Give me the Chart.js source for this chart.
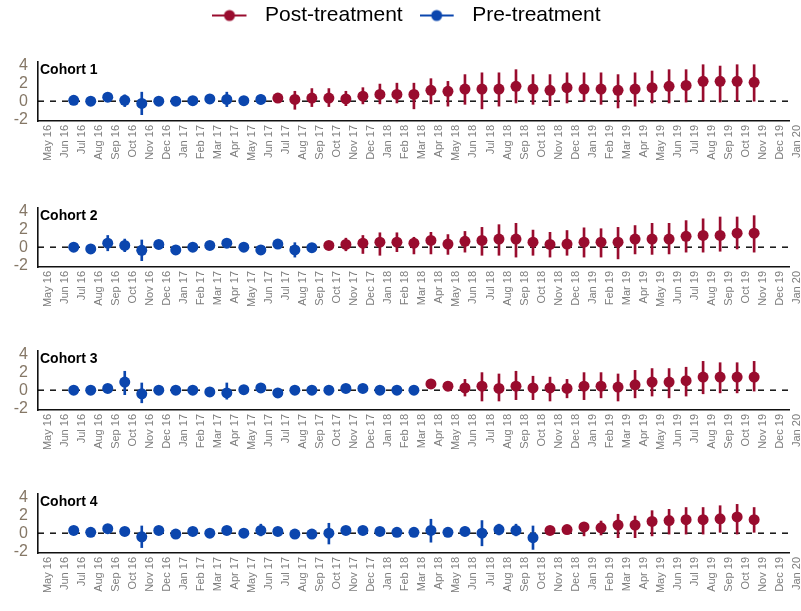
<!DOCTYPE html>
<html>
<head>
<meta charset="utf-8">
<script src="https://cdn.jsdelivr.net/npm/chart.js@4.4.1/dist/chart.umd.min.js"></script>
<style>
  html, body { margin: 0; padding: 0; background: #fff; }
  #wrap { position: relative; width: 801px; height: 611px; overflow: hidden; }
  #wrap canvas { position: absolute; left: 0; }
</style>
</head>
<body>
<div id="wrap">
  <canvas id="legend" width="801" height="120" style="top:-12px"></canvas>
  <canvas id="c1" width="801" height="112" style="top:55px"></canvas>
  <canvas id="c2" width="801" height="112" style="top:201px"></canvas>
  <canvas id="c3" width="801" height="112" style="top:344px"></canvas>
  <canvas id="c4" width="801" height="112" style="top:487px"></canvas>
</div>
<script>
/* ── datos ─────────────────────────────────── */
const monthLabels = [
  'May 16','Jun 16','Jul 16','Aug 16','Sep 16','Oct 16','Nov 16','Dec 16',
  'Jan 17','Feb 17','Mar 17','Apr 17','May 17','Jun 17','Jul 17','Aug 17','Sep 17','Oct 17','Nov 17','Dec 17',
  'Jan 18','Feb 18','Mar 18','Apr 18','May 18','Jun 18','Jul 18','Aug 18','Sep 18','Oct 18','Nov 18','Dec 18',
  'Jan 19','Feb 19','Mar 19','Apr 19','May 19','Jun 19','Jul 19','Aug 19','Sep 19','Oct 19','Nov 19','Dec 19',
  'Jan 20'
];
const firstEstimate = 1;            // estimates start at Jun 16
const yTicks = [-2, 0, 2, 4];
const seriesNames = ['Post-treatment', 'Pre-treatment'];
const cohortNames = ['Cohort 1', 'Cohort 2', 'Cohort 3', 'Cohort 4'];
const treatStart = [12, 15, 21, 28]; // first post-treatment estimate per cohort

const est1 = [0.1,0.0,0.45,0.1,-0.25,0.0,0.0,0.05,0.25,0.2,0.05,0.2,
  0.35,0.2,0.35,0.35,0.25,0.55,0.75,0.75,0.75,1.2,1.1,1.35,1.35,1.35,1.65,1.35,1.2,1.5,1.35,1.35,1.2,1.35,1.5,1.65,1.75,2.2,2.2,2.2,2.1];
const lo1 = [-0.3,-0.3,0.1,-0.6,-1.5,-0.3,-0.3,-0.25,-0.1,-0.6,-0.25,-0.3,
  -0.1,-0.9,-0.6,-0.6,-0.5,-0.3,-0.3,-0.2,-0.85,-0.3,-0.55,-0.35,-0.85,-0.55,-0.2,-0.35,-0.5,-0.2,0.0,-0.35,-0.75,-0.55,-0.2,-0.2,-0.1,0.0,-0.1,0.0,0.0];
const hi1 = [0.5,0.3,0.8,0.7,1.0,0.3,0.3,0.35,0.6,1.0,0.35,0.7,
  0.8,1.1,1.4,1.4,1.1,1.5,1.9,2.0,2.0,2.5,2.2,2.95,3.15,3.15,3.5,2.95,2.95,3.15,3.15,3.15,2.95,3.15,3.35,3.5,3.5,4.05,3.9,4.05,4.05];

const est2 = [0.0,-0.2,0.45,0.2,-0.35,0.3,-0.3,0.0,0.2,0.45,0.0,-0.3,0.35,-0.3,-0.05,
  0.2,0.3,0.45,0.55,0.55,0.45,0.75,0.35,0.65,0.75,0.9,0.9,0.55,0.3,0.35,0.55,0.55,0.55,0.9,0.9,0.9,1.2,1.3,1.3,1.55,1.55];
const lo2 = [-0.3,-0.5,-0.4,-0.5,-1.5,-0.1,-0.6,-0.3,-0.1,0.05,-0.3,-0.6,0.0,-1.1,-0.4,
  -0.1,-0.4,-0.7,-0.9,-0.5,-0.75,-0.75,-0.8,-0.55,-0.9,-0.9,-1.1,-0.9,-1.1,-0.9,-1.1,-1.1,-1.3,-0.75,-0.8,-0.75,-0.55,-0.55,-0.45,-0.2,-0.55];
const hi2 = [0.3,0.1,1.3,0.9,0.8,0.7,0.0,0.3,0.5,0.85,0.3,0.0,0.7,0.5,0.3,
  0.5,1.0,1.3,1.6,1.6,1.1,1.65,1.4,1.75,2.2,2.5,2.65,1.9,1.65,1.85,2.15,2.05,2.2,2.4,2.65,2.65,2.95,3.15,3.35,3.35,3.5];

const est3 = [0,0,0.2,0.9,-0.4,0,0,0,-0.2,-0.3,0.05,0.25,-0.3,0,0,0,0.2,0.2,0,0,0,
  0.7,0.45,0.25,0.45,0.2,0.45,0.25,0.25,0.2,0.45,0.45,0.35,0.6,0.9,0.9,1.05,1.45,1.45,1.45,1.45];
const lo3 = [-0.3,-0.3,-0.1,-0.5,-1.4,-0.3,-0.3,-0.3,-0.5,-1.0,-0.25,-0.05,-0.6,-0.3,-0.3,-0.3,-0.1,-0.1,-0.3,-0.3,-0.3,
  0.4,-0.05,-0.65,-1.2,-1.2,-1.05,-1.05,-1.2,-0.85,-1.05,-0.85,-1.2,-0.85,-0.65,-0.85,-0.65,-0.4,-0.3,-0.3,-0.1];
const hi3 = [0.3,0.3,0.5,2.1,0.8,0.3,0.3,0.3,0.1,0.8,0.35,0.55,0.0,0.3,0.3,0.3,0.5,0.5,0.3,0.3,0.3,
  1.0,0.95,1.2,1.95,1.8,2.1,1.55,1.45,1.2,1.95,1.95,1.8,2.2,2.4,2.4,2.55,3.2,3.05,3.05,3.2];

const est4 = [0.3,0.1,0.5,0.2,-0.4,0.3,-0.1,0.2,0.0,0.3,0.0,0.3,0.2,-0.1,-0.1,0.0,0.3,0.3,0.2,0.1,0.1,0.3,0.1,0.2,0.0,0.4,0.3,-0.5,
  0.3,0.4,0.7,0.6,0.9,0.9,1.3,1.4,1.5,1.5,1.6,1.8,1.5];
const lo4 = [-0.1,-0.2,0.15,-0.15,-1.6,-0.05,-0.45,-0.15,-0.35,-0.05,-0.35,-0.3,-0.15,-0.45,-0.45,-1.2,-0.05,-0.05,-0.15,-0.25,-0.25,-1.0,-0.25,-0.3,-1.4,-0.2,-0.3,-1.8,
  -0.1,0.0,-0.3,-0.2,-0.5,-0.5,-0.3,-0.1,-0.1,-0.1,0.1,-0.1,0.1];
const hi4 = [0.65,0.4,0.85,0.55,0.8,0.65,0.25,0.55,0.35,0.65,0.35,1.0,0.55,0.25,0.25,1.1,0.65,0.65,0.55,0.45,0.45,1.55,0.45,0.7,1.4,1.0,1.0,0.8,
  0.65,0.8,1.2,1.35,2.1,1.9,2.5,2.65,2.85,2.85,3.05,3.2,2.85];

/* ── estilos ───────────────────────────────── */
const RED  = '#990c2e';
const BLUE = '#0b46ae';
const X_MIN = -0.6, X_MAX = 43.55;
const Y_MIN = -2.2, Y_MAX = 4.35;

Chart.defaults.font.family = "'Liberation Sans', Arial, sans-serif";
Chart.defaults.animation = false;

// "Cohort N" dentro del área del gráfico
const cohortTitle = {
  id: 'cohortTitle',
  afterDraw(chart, args, opts) {
    const { ctx, chartArea } = chart;
    ctx.save();
    ctx.font = "bold 14px 'Liberation Sans', Arial, sans-serif";
    ctx.fillStyle = '#000';
    ctx.textBaseline = 'top';
    ctx.fillText(opts.text, chartArea.left + 2, chartArea.top + 1);
    ctx.restore();
  }
};

/* ── leyenda ───────────────────────────────── */
function legendIcon(color) {
  const c = document.createElement('canvas');
  c.width = 42; c.height = 14;
  const g = c.getContext('2d');
  g.strokeStyle = color; g.lineWidth = 2;
  g.beginPath(); g.moveTo(0, 7); g.lineTo(34, 7); g.stroke();
  g.fillStyle = color;
  g.beginPath(); g.arc(17, 7, 5.5, 0, Math.PI * 2); g.fill();
  return c;
}

(function () {
  const colors = [RED, BLUE];
  new Chart(document.getElementById('legend'), {
    type: 'scatter',
    data: {
      datasets: seriesNames.map((n, i) => ({ label: n, data: [], backgroundColor: colors[i], borderColor: colors[i] }))
    },
    options: {
      responsive: false,
      layout: { padding: { left: 12 } },
      scales: { x: { display: false }, y: { display: false } },
      plugins: {
        tooltip: { enabled: false },
        legend: {
          position: 'top',
          labels: {
            usePointStyle: true,
            pointStyleWidth: 42,
            padding: 17,
            color: '#222',
            font: { size: 21 },
            generateLabels: chart => seriesNames.map((n, i) => ({
              text: n, pointStyle: legendIcon(colors[i]), fillStyle: colors[i],
              strokeStyle: colors[i], lineWidth: 0, hidden: false, datasetIndex: i
            }))
          }
        }
      }
    }
  });
})();

/* ── paneles ───────────────────────────────── */
function panel(id, name, est, lo, hi, start) {
  const pre = [], post = [], preBar = [], postBar = [];
  est.forEach((v, k) => {
    const x = firstEstimate + k + 0.5;
    if (k < start) { pre.push({ x, y: v }); preBar.push({ x, y: [lo[k], hi[k]] }); }
    else           { post.push({ x, y: v }); postBar.push({ x, y: [lo[k], hi[k]] }); }
  });

  new Chart(document.getElementById(id), {
    type: 'scatter',
    data: {
      datasets: [
        { type: 'line', data: [{ x: X_MIN, y: 0 }, { x: X_MAX, y: 0 }], borderColor: '#000',
          borderWidth: 1.4, borderDash: [6, 6], pointRadius: 0, order: 4 },
        { type: 'bar', data: preBar,  backgroundColor: BLUE, barThickness: 2, grouped: false, order: 3 },
        { type: 'bar', data: postBar, backgroundColor: RED,  barThickness: 2, grouped: false, order: 3 },
        { data: pre,  backgroundColor: BLUE, borderColor: BLUE, pointRadius: 5.5, borderWidth: 0, order: 1 },
        { data: post, backgroundColor: RED,  borderColor: RED,  pointRadius: 5.5, borderWidth: 0, order: 1 }
      ]
    },
    options: {
      responsive: false,
      layout: { padding: { top: 7, right: 12, bottom: 0, left: 0 } },
      plugins: {
        legend: { display: false },
        tooltip: { enabled: false },
        cohortTitle: { text: name }
      },
      scales: {
        x: {
          type: 'linear', min: X_MIN, max: X_MAX, offset: false,
          grid: { display: false, drawTicks: false },
          border: { display: true, color: '#111', width: 1.6 },
          afterBuildTicks: s => { s.ticks = monthLabels.map((_, i) => ({ value: i })); },
          afterFit: s => { s.height = 46; s.paddingLeft = 0; s.paddingRight = 0; },
          ticks: {
            autoSkip: false, minRotation: 90, maxRotation: 90, padding: 4,
            color: '#7c7c7c', font: { size: 11 },
            callback: v => monthLabels[v]
          }
        },
        y: {
          min: Y_MIN, max: Y_MAX,
          grid: { display: false, drawTicks: false },
          border: { display: true, color: '#111', width: 1.6 },
          afterBuildTicks: s => { s.ticks = yTicks.map(v => ({ value: v })); },
          afterFit: s => { s.width = 38; s.paddingTop = 0; s.paddingBottom = 0; },
          ticks: { autoSkip: false, color: '#857766', font: { size: 16 }, padding: 10 }
        }
      }
    },
    plugins: [cohortTitle]
  });
}

panel('c1', cohortNames[0], est1, lo1, hi1, treatStart[0]);
panel('c2', cohortNames[1], est2, lo2, hi2, treatStart[1]);
panel('c3', cohortNames[2], est3, lo3, hi3, treatStart[2]);
panel('c4', cohortNames[3], est4, lo4, hi4, treatStart[3]);
</script>
</body>
</html>
